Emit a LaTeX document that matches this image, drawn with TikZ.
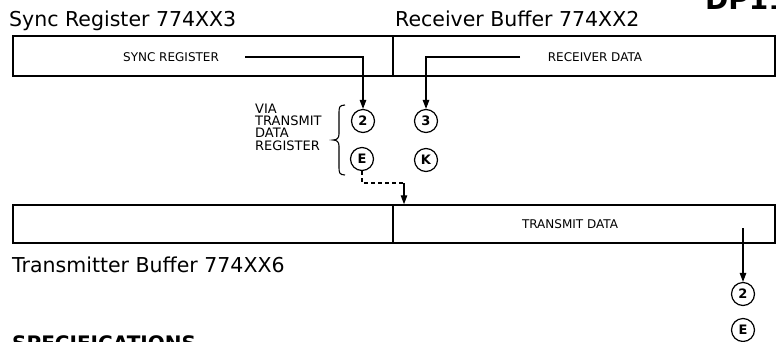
\documentclass[tikz,border=0pt]{standalone}
\usepackage{fontspec}
\setmainfont{DejaVu Sans}
\usetikzlibrary{arrows.meta}
\begin{document}
\begin{tikzpicture}[x=1pt,y=-1pt,
  reg/.style={draw, line width=1.5pt, inner sep=0pt},
  title/.style={font=\fontsize{20.5}{24}\selectfont, anchor=base west, inner sep=0pt},
  lab/.style={font=\fontsize{12}{14}\selectfont, inner sep=0pt},
  bit/.style={draw, circle, line width=1.2pt, minimum size=23pt, inner sep=0pt, font=\bfseries\fontsize{13}{14}\selectfont},
  conn/.style={line width=1.2pt},
  arr/.style={line width=1.2pt, -{Triangle[length=9pt,width=6.5pt]}},
  dashconn/.style={line width=1.2pt, dash pattern=on 4pt off 3pt}]
\useasboundingbox (0,0) rectangle (776,341);
\clip (0,0) rectangle (776,341);

% titles
\node[title] (tsync) at (9,26) {Sync Register 774XX3};
\node[title] (trecv) at (395,26) {Receiver Buffer 774XX2};
\node[title] (ttx) at (12,272) {Transmitter Buffer 774XX6};
\node[font=\bfseries\fontsize{28}{30}\selectfont, anchor=base west, inner sep=0pt] (dp) at (705,9) {DP11};
\node[font=\bfseries\fontsize{20}{24}\selectfont, anchor=base west, inner sep=0pt] (spec) at (12,350) {SPECIFICATIONS};

% register boxes
\node[reg, minimum width=380pt, minimum height=40pt] (syncbox) at (203,56) {};
\node[reg, minimum width=382pt, minimum height=40pt] (recvbox) at (584,56) {};
\node[reg, minimum width=380pt, minimum height=38pt] (txl) at (203,224) {};
\node[reg, minimum width=382pt, minimum height=38pt] (txr) at (584,224) {};

% box labels
\node[lab] (lsync) at (171,57) {SYNC REGISTER};
\node[lab] (lrecv) at (595,57) {RECEIVER DATA};
\node[lab] (ltx) at (570,224) {TRANSMIT DATA};

% bit circles
\node[bit] (c2) at (363,121) {2};
\node[bit] (c3) at (426,121) {3};
\node[bit] (cE) at (362,159) {E};
\node[bit] (cK) at (426,160) {K};
\node[bit] (c2b) at (743,294) {2};
\node[bit] (cEb) at (743,330) {E};

% via text and brace
\node[font=\fontsize{13}{12.3}\selectfont, align=left, anchor=west, inner sep=0pt] (via) at (255,127) {VIA\\TRANSMIT\\DATA\\REGISTER};
\draw[line width=1.1pt] (345,105) .. controls (339,105) and (339,108) .. (339,113) -- (339,134)
  .. controls (339,138) and (337,140) .. (333,140)
  .. controls (337,140) and (339,142) .. (339,146) -- (339,167)
  .. controls (339,172) and (339,175) .. (345,175);

% connectors
\coordinate (ssync) at (245,57);
\coordinate (srecv) at (520,57);
\draw[arr] (ssync) -| (c2.north);
\draw[arr] (srecv) -| (c3.north);
\coordinate (dj) at (404,183);
\draw[dashconn] (cE.south) |- (dj);
\draw[arr] (dj) -- (dj |- txr.north);
\coordinate (stx) at (743,228);
\draw[arr] (stx) -- (c2b.north);
\end{tikzpicture}
\end{document}
